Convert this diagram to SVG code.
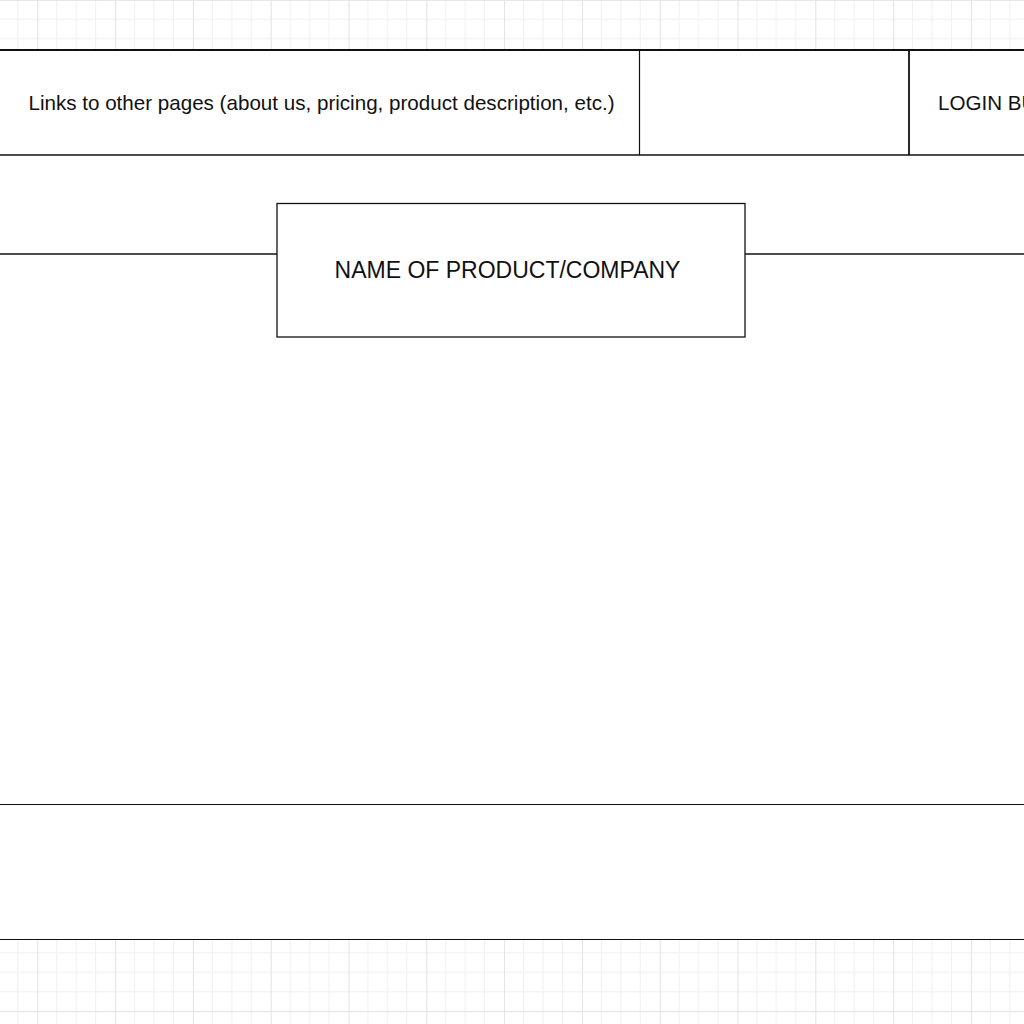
<svg xmlns="http://www.w3.org/2000/svg" width="1024" height="1024" viewBox="0 0 1024 1024">
  <defs>
    <pattern id="grid" patternUnits="userSpaceOnUse" x="37.3" y="-0.2" width="77.8" height="77.8">
      <path d="M19.45 0V77.8M38.9 0V77.8M58.35 0V77.8M0 19.45H77.8M0 38.9H77.8M0 58.35H77.8" stroke="#f0f0f0" stroke-width="1" fill="none"/>
      <path d="M0.5 0V77.8M0 0.5H77.8" stroke="#e2e2e2" stroke-width="1" fill="none"/>
    </pattern>
    <style>
      .ln { stroke: #111; fill: none; }
      .box { stroke: #111; fill: #fff; stroke-width: 1.3; }
      .t { font-family: "Liberation Sans", Arial, sans-serif; fill: #111; }
    </style>
  </defs>
  <rect width="1024" height="1024" fill="#fff"/>
  <rect width="1024" height="1024" fill="url(#grid)"/>
  <rect id="page" x="-5" y="50" width="1040" height="889" fill="#fff"/>

  <g id="connectors">
    <line class="ln" x1="0" y1="50" x2="1024" y2="50" stroke-width="2"/>
    <line class="ln" x1="0" y1="155" x2="1024" y2="155" stroke-width="1.6"/>
    <line class="ln" x1="639.5" y1="50" x2="639.5" y2="155" stroke-width="1.2"/>
    <line class="ln" x1="909" y1="50" x2="909" y2="155" stroke-width="1.8"/>
    <line class="ln" x1="0" y1="254" x2="277" y2="254" stroke-width="1.4"/>
    <line class="ln" x1="745" y1="254" x2="1024" y2="254" stroke-width="1.4"/>
    <line class="ln" x1="0" y1="804.5" x2="1024" y2="804.5" stroke-width="1.2"/>
    <line class="ln" x1="0" y1="939.5" x2="1024" y2="939.5" stroke-width="1.2"/>
  </g>

  <g id="links">
    <text class="t" x="321.5" y="110" font-size="20.6" text-anchor="middle">Links to other pages (about us, pricing, product description, etc.)</text>
  </g>
  <g id="empty-cell"></g>
  <g id="login">
    <text class="t" x="938" y="110" font-size="20.6">LOGIN BUTTON</text>
  </g>
  <g id="name-box">
    <rect class="box" x="277" y="203.5" width="468" height="133.5"/>
    <text class="t" x="507.5" y="277.5" font-size="23" text-anchor="middle">NAME OF PRODUCT/COMPANY</text>
  </g>
</svg>
